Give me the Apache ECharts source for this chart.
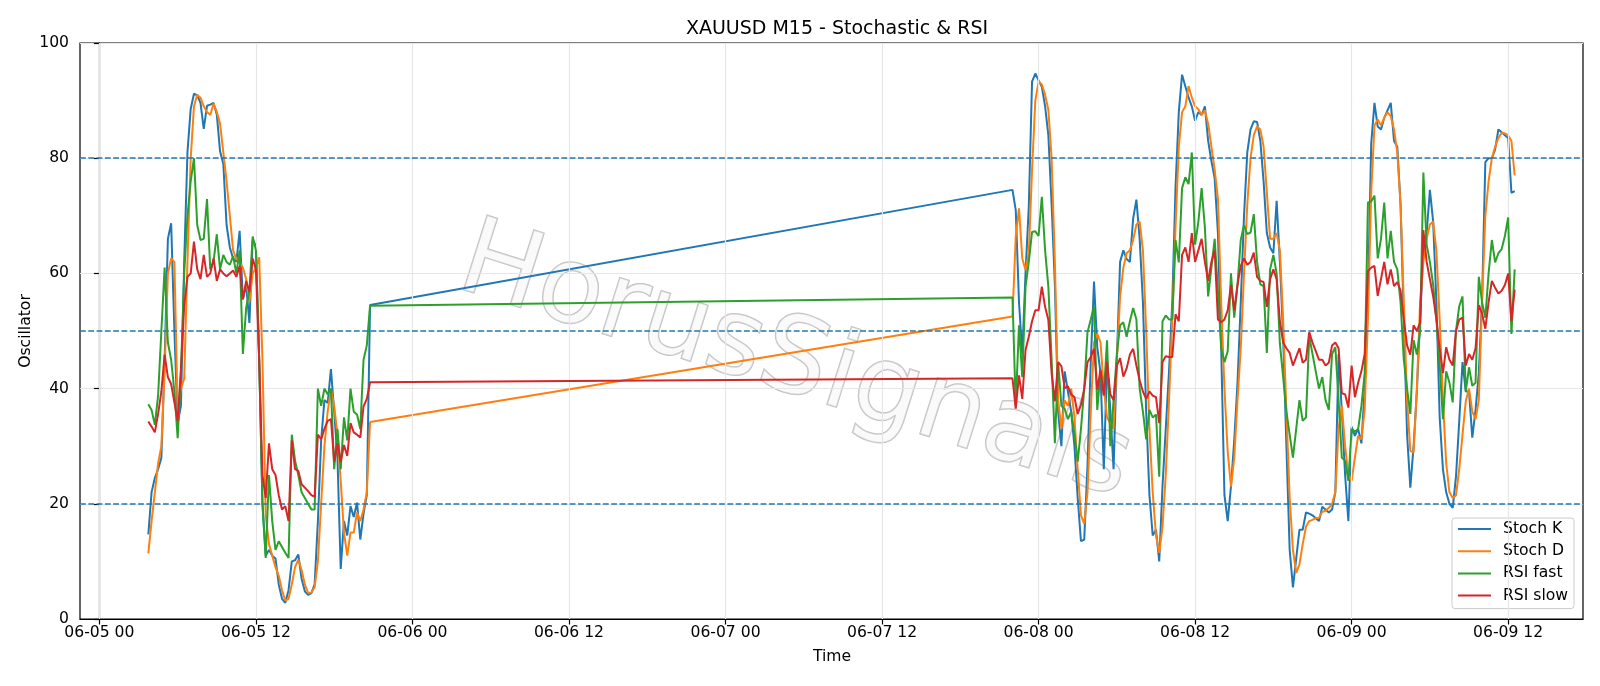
<!DOCTYPE html>
<html><head><meta charset="utf-8">
<script src="https://cdn.jsdelivr.net/npm/echarts@6/dist/echarts.min.js"></script>
<style>html,body{margin:0;padding:0;background:#fff}#c{width:1600px;height:686px}</style>
</head><body><div id="c"></div>
<script>
// ---- data ----
const seriesNames = ['Stoch K', 'Stoch D', 'RSI fast', 'RSI slow'];
const seg1Start = '06-05 03:45';   // first session, 15-minute bars
const seg2Start = '06-07 22:00';   // second session after weekend gap
const barHours = 0.25;
const xTickLabels = ['06-05 00','06-05 12','06-06 00','06-06 12','06-07 00','06-07 12','06-08 00','06-08 12','06-09 00','06-09 12'];
const refLevels = [20, 50, 80];

const stochK1 = [14.7,22,24.5,26,28,45,66,68.7,50,34,
 37,62,81,88.6,91.2,90.9,89.6,85.1,89.1,89.3,
 89.6,87.6,81.2,79,68.4,64.5,62.6,62,67.4,55.5,
 58.1,51.4,65.8,64.8,45,20,11,12,11,10.5,
 6,3.5,2.8,5,10,10.2,11.2,7,4.8,4.2,
 4.5,6,17,31,38,37.5,43.4,36,28,8.7,
 17,14.5,19.6,17.7,20.2,13.8,18.3,21.5,54.5];
const stochD1 = [11.4,17,22,27,30,43,60,62.6,62,36,
 40,41.7,62,80,89,91,90.5,89,88,87.5,
 89.5,88,86,81,76,70,64,62.5,62,61,
 59,55,60,61,62.8,45,18,13,11,9,
 7.5,5,3.2,3.5,6,9,10.3,8.5,6,4.5,
 4.6,5.5,10,20,30,36,40,37,32,24,
 15,11,15,15,18.5,17,19,22,34.2];
const rsiFast1 = [37.3,36.3,33.7,38.8,50,61,48,45,39.5,31.4,
 42.7,60,70,76,80,68.4,65.8,66,72.9,60.7,
 62,66.8,60.7,63.2,62,61.5,63,60,64,46,
 54,57,66.4,64,45,20,10.6,25,17,12,
 13.5,12.5,11.5,10.6,32,27.5,25,22,21,20,
 19,19,40,37,40,39,40,26,33,26,
 35,31,40,36,35.5,33,45,47.5,54.4];
const rsiSlow1 = [34.3,33.4,32.4,35.6,39.5,45.9,42,40.8,37.6,34.4,
 43.4,54.3,59.4,60,65.5,60.7,59,63.2,59.4,60,
 62.6,58.7,60.7,60,59.5,60,60.5,59.4,61.3,55.5,
 58.7,56.8,62.6,60.7,45,25,21,30.5,26,25,
 21.5,19,19.6,17,31,26,25.7,23.4,22.8,22.2,
 21.5,21.2,32,31.2,33,34.4,34.7,27.3,30.5,27.3,
 30.2,28.3,34,32.4,32,31.5,36.9,38.2,41.1];

const stochK2 = [74.5,71,55,46,60,71.6,93.3,94.7,93.5,92.4,
 89,84,72,58,36,30,43,39.5,36,30,
 21,13.5,13.8,26.6,44.6,58.6,47.2,42.7,26,44.6,
 36.3,26,45,62,64,62.5,62,69.5,72.8,66,
 55,36,21.5,14.5,15.5,10,23,33,43,55,
 75,88,94.5,92.5,90.5,89,86.5,88,87.5,89,
 83,79.5,76.5,67,47,21.5,17,23,31,41,
 55,70,81,85,86.4,86.3,83,76,67,64.5,
 63.5,72.6,62,49,30,12,5.5,10.5,15.5,15.5,
 18.5,18.3,18,17.5,17,19.5,19,18.5,19,22,
 46,36,25,17,33.4,31.8,33,30.5,40,55.5,
 82.5,89.6,85.5,85,87,88.3,89.6,83,82,72,
 52,32,22.8,30,39.5,52,64,67,74.5,69,
 55,35,26,22,20,19.3,24.7,34.4,44.6,39.5,
 39.5,31.5,36.3,42.7,55.5,79.3,80,80,81.5,85,
 84.5,84,83.5,74,74.3];
const stochD2 = [52.5,66.4,71.3,62.6,60.6,63.5,78,90,93.3,92.8,
 91,88.4,80,62,38,33,38,37,40,35,
 26,18,16.5,22,36,48,49.5,48,40,35,
 34,33,45,56,61,63.5,64,65.8,68.5,69,
 64,50,33,22,14.5,11.5,16,25,38,52,
 68,82,88,89,92.5,90.5,89,88.5,87.5,88.3,
 86,82,78,73,55,40,29,23,28,38,
 47,60,72,80,84,85.5,85,82,74,66,
 66,67,64,52,36,21,12,8,9.5,13,
 16,17,17.2,17.5,17.6,18.6,18.8,19.3,20,22,
 33,37,30,25,24,28,31.8,31.2,36.3,52,
 74,85.7,86.7,85.7,87,88,87.3,85,81,72,
 55,38,29.2,28.9,40,55,62,66,68.5,69,
 63.9,52,38,27,22,21,21.5,26,32,37.8,
 40,36,34.7,38,55,70,76,80,82,83.5,
 84.4,84.3,84,83,77];
const rsiFast2 = [55.8,37,51,42,57.7,62,67.2,67.3,66.5,73.3,
 64,57.7,45,30.5,44.6,37,36.5,34.7,36,32,
 27.3,33,40,49.8,52,54.3,36.3,43,39,48.4,
 30,38,46,51,51.5,49,51.7,54,52,40,
 36,31.2,36.3,35,35.5,24.7,51.7,52.7,52,52,
 65.8,61.9,74.8,76.7,75.5,81,65,69,74.8,68,
 56,61,66,57,47,44.6,46.5,60,52.3,58,
 65.8,68.4,66.8,67.1,70.3,62,58.1,57.8,46.2,60.7,
 63.2,60,47.8,42,36,32,28,33,38,34.4,
 35,49.1,46,43,40,42,38,36.3,46,47.2,
 38,28,27.5,24,33,32.5,33,37,42.7,72.3,
 72.5,73.5,62.6,66,72.3,62.6,67.4,62,60.7,55,
 45,40,35.6,48.4,45.9,50,77.5,65,62,58,
 52,44,34.7,43,41,37.6,50,54.3,56,39.5,
 43.7,40.5,41,59.4,55,52.3,60,65.8,61.9,63.5,
 64.2,66.5,69.7,49.5,60.7];
const rsiSlow2 = [41.8,36.5,42.3,38.2,46.7,49,51.7,53.6,53.6,57.7,
 54.2,51.9,42.7,37.8,44.6,43.9,40.1,40.4,39,38.5,
 35.6,37.2,40,44.6,45.5,46.9,39.8,43.3,38.8,44.6,
 39,38,44,45.3,42.1,43.5,45.9,46.9,44,41.4,
 39.5,38.2,39.5,38.8,38.5,34,44.6,45.6,45.5,45.5,
 52.9,51.7,63.2,64.5,62,67,62,64,66,62,
 58.7,62,64,52,51.5,52,53.6,58,53.6,58,
 61.3,62.6,61.5,62,63.6,59.4,58.7,58.5,54.2,59,
 60.7,59,51.7,48,47,46.2,44,45.5,47,44.5,
 45,49.8,48,46.5,45,45,44,44.5,47.5,48,
 47,39.2,39,36.7,44,38.5,41,43,46,60.4,
 61,61.3,56.1,59,62,58.1,60.7,57.8,58.5,57,
 52,47.5,45.9,51,50,51.5,67.5,62,59,56,
 52,47,42.7,47.2,45,44,50,52,52.3,44,
 46,45,47,54.5,53,50.4,55,58.7,57.5,56.5,
 57,58,60,51.7,57.2];

// ---- helpers ----
function hoursOf(stamp) {
  const parts = stamp.split(' ');
  const md = parts[0].split('-').map(Number);
  const hm = parts[1].split(':').map(Number);
  return (md[1] - 5) * 24 + hm[0] + (hm[1] || 0) / 60;
}
function build(v1, v2) {
  const a = hoursOf(seg1Start), b = hoursOf(seg2Start);
  return v1.map((v, i) => [a + i * barHours, v]).concat(v2.map((v, i) => [b + i * barHours, v]));
}
const tickHours = xTickLabels.map(hoursOf);
const firstH = hoursOf(seg1Start);
const lastH = hoursOf(seg2Start) + (stochK2.length - 1) * barHours;
const span = lastH - firstH;
const xMin = firstH - 0.05 * span, xMax = lastH + 0.05 * span;

const FONT = 'DejaVu Sans';
const FS = 15.6;
const colors = ['#1f77b4', '#ff7f0e', '#2ca02c', '#d62728'];
const values = [[stochK1, stochK2], [stochD1, stochD2], [rsiFast1, rsiFast2], [rsiSlow1, rsiSlow2]];

const series = seriesNames.map((n, i) => ({
  name: n, type: 'line', data: build(values[i][0], values[i][1]),
  symbol: 'none', showSymbol: false, z: 3 + i,
  lineStyle: { color: colors[i], width: 2 }, itemStyle: { color: colors[i] }
}));
series.push({
  type: 'line', data: [], silent: true, z: 1,
  markLine: { symbol: ['none', 'none'], silent: true, animation: false, label: { show: false },
    lineStyle: { color: '#e6e6e6', width: 1.2, type: 'solid' },
    data: tickHours.map(h => ({ xAxis: h })) }
});
series.push({
  type: 'line', data: [], silent: true, z: 10,
  markLine: { symbol: ['none', 'none'], silent: true, animation: false, label: { show: false },
    lineStyle: { color: '#1f77b4', width: 1.5, type: [5.8, 2.5] },
    data: refLevels.map(v => ({ yAxis: v })) }
});

const chart = echarts.init(document.getElementById('c'), null, { renderer: 'canvas' });
chart.setOption({
  animation: false,
  backgroundColor: '#ffffff',
  title: { text: 'XAUUSD M15 - Stochastic & RSI', left: 832, top: 15, textAlign: 'center',
    textStyle: { fontSize: 19, fontWeight: 'normal', color: '#000', fontFamily: FONT } },
  grid: { left: 80, right: 17, top: 43, bottom: 67, show: true, borderColor: '#000', borderWidth: 1.2, containLabel: false },
  legend: {
    orient: 'vertical', left: 1452, top: 518,
    itemWidth: 33, itemHeight: 16, itemGap: 6.2,
    padding: [3, 6, 5, 5],
    backgroundColor: 'rgba(255,255,255,0.8)', borderColor: '#cccccc', borderWidth: 1, borderRadius: 3,
    itemStyle: { opacity: 0 },
    lineStyle: { width: 2 },
    textStyle: { fontSize: FS, color: '#000', fontFamily: FONT, padding: [0, 0, 0, 7] },
    data: seriesNames
  },
  xAxis: {
    type: 'value', min: xMin, max: xMax,
    axisLine: { show: true, onZero: false, lineStyle: { color: '#000', width: 1.2 } },
    axisTick: { show: true, customValues: tickHours, length: 5.5, lineStyle: { color: '#000', width: 1.2 } },
    axisLabel: { customValues: tickHours, fontSize: FS, color: '#000', fontFamily: FONT, margin: 6,
      formatter: v => { const k = tickHours.findIndex(h => Math.abs(h - v) < 1e-6); return k >= 0 ? xTickLabels[k] : ''; } },
    splitLine: { show: false }
  },
  yAxis: {
    type: 'value', min: 0, max: 100, interval: 20,
    axisLine: { show: true, lineStyle: { color: '#000', width: 1.2 } },
    axisTick: { show: true, length: 5.5, lineStyle: { color: '#000', width: 1.2 } },
    axisLabel: { fontSize: FS, color: '#000', fontFamily: FONT, margin: 11 },
    splitLine: { show: true, lineStyle: { color: '#e6e6e6', width: 1.2 } }
  },
  graphic: { elements: [
    { type: 'text', x: 795, y: 365, rotation: -17.5 * Math.PI / 180, z: 0, silent: true,
      style: { text: 'HorusSignals', fontSize: 107, fontFamily: FONT, fill: 'rgba(242,242,242,0.4)',
        stroke: 'rgba(165,165,165,0.7)', lineWidth: 1.5, align: 'center', verticalAlign: 'middle',
        shadowColor: 'rgba(0,0,0,0.25)', shadowBlur: 2, shadowOffsetX: 2.5, shadowOffsetY: 2.5 } },
    { type: 'text', x: 25.5, y: 331, rotation: Math.PI / 2, silent: true,
      style: { text: 'Oscillator', fontSize: FS, fontFamily: FONT, fill: '#000', align: 'center', verticalAlign: 'middle' } },
    { type: 'text', x: 832, y: 657, silent: true,
      style: { text: 'Time', fontSize: FS, fontFamily: FONT, fill: '#000', align: 'center', verticalAlign: 'middle' } }
  ] },
  series: series
});
</script></body></html>
